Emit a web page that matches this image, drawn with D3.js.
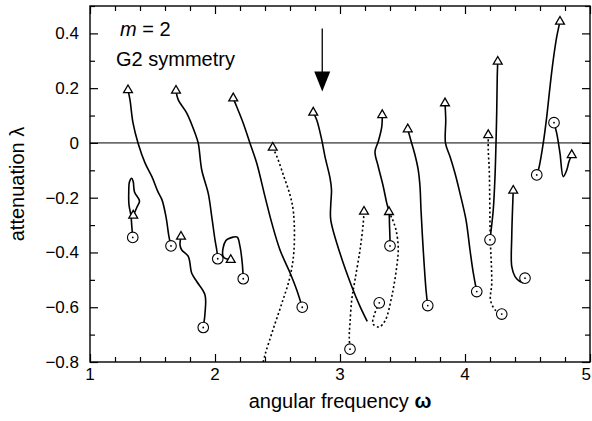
<!DOCTYPE html>
<html>
<head>
<meta charset="utf-8">
<script src="https://cdn.jsdelivr.net/npm/d3@7"></script>
<style>
  body { margin: 0; background: #fff; }
  svg { font-family: "Liberation Sans", Arial, sans-serif; }
</style>
</head>
<body>
<div id="chart"></div>
<script>
// branches (omega, lambda)
var branchA = [[1.304,0.193],[1.320,0.157],[1.344,0.073],[1.384,0],[1.440,-0.073],[1.496,-0.124],[1.544,-0.179],[1.576,-0.208],[1.608,-0.270],[1.632,-0.343],[1.648,-0.376]];
var branchB = [[1.342,-0.345],[1.334,-0.303],[1.328,-0.266],[1.312,-0.226],[1.310,-0.179],[1.316,-0.142],[1.334,-0.129],[1.346,-0.142],[1.356,-0.179],[1.396,-0.212],[1.376,-0.234],[1.346,-0.265]];
var branchC = [[1.688,0.191],[1.706,0.157],[1.774,0.109],[1.840,0.036],[1.866,-0.001],[1.894,-0.099],[1.946,-0.184],[1.974,-0.269],[2.000,-0.354],[2.014,-0.391],[2.022,-0.423]];
var branchD = [[1.728,-0.342],[1.720,-0.372],[1.734,-0.391],[1.786,-0.414],[1.814,-0.476],[1.854,-0.506],[1.920,-0.555],[1.920,-0.622],[1.906,-0.674]];
var branchE = [[2.126,-0.427],[2.066,-0.415],[2.086,-0.357],[2.146,-0.344],[2.178,-0.344],[2.200,-0.378],[2.218,-0.439],[2.226,-0.496]];
var branchF = [[2.146,0.163],[2.174,0.132],[2.226,0.072],[2.280,-0.001],[2.334,-0.074],[2.400,-0.196],[2.454,-0.292],[2.520,-0.391],[2.600,-0.474],[2.654,-0.537],[2.698,-0.600]];
var branchG = [[2.462,-0.017],[2.496,-0.051],[2.552,-0.124],[2.600,-0.190],[2.628,-0.255],[2.632,-0.391],[2.600,-0.489],[2.536,-0.584],[2.464,-0.682],[2.400,-0.774],[2.370,-0.83]];
var branchH = [[2.786,0.111],[2.814,0.084],[2.854,0.011],[2.880,-0.050],[2.920,-0.128],[2.932,-0.172],[2.926,-0.226],[2.926,-0.281],[3.000,-0.403],[3.094,-0.524],[3.160,-0.597],[3.218,-0.652]];
var branchI = [[3.314,-0.584],[3.272,-0.631],[3.264,-0.661],[3.312,-0.672],[3.360,-0.650],[3.414,-0.561],[3.454,-0.451],[3.466,-0.384],[3.448,-0.318],[3.416,-0.275],[3.386,-0.251]];
var branchK = [[3.338,0.102],[3.334,0.059],[3.306,0.005],[3.280,-0.032],[3.306,-0.086],[3.346,-0.159],[3.374,-0.220],[3.392,-0.252],[3.396,-0.299],[3.400,-0.354],[3.400,-0.376]];
var branchL = [[3.192,-0.251],[3.186,-0.293],[3.160,-0.391],[3.120,-0.500],[3.094,-0.573],[3.080,-0.658],[3.074,-0.707],[3.080,-0.753]];
var branchN = [[3.542,0.050],[3.566,0.011],[3.600,-0.044],[3.626,-0.099],[3.640,-0.159],[3.648,-0.245],[3.666,-0.391],[3.688,-0.536],[3.702,-0.594]];
var branchO = [[3.840,0.145],[3.846,0.084],[3.844,-0.001],[3.880,-0.050],[3.920,-0.111],[3.960,-0.184],[4.008,-0.281],[4.040,-0.391],[4.066,-0.474],[4.094,-0.543]];
var branchP = [[4.186,0.029],[4.186,-0.026],[4.194,-0.099],[4.202,-0.342],[4.214,-0.512],[4.204,-0.573],[4.240,-0.609],[4.294,-0.625]];
var branchQ = [[4.262,0.297],[4.258,0.242],[4.254,0.120],[4.248,-0.001],[4.240,-0.123],[4.226,-0.245],[4.206,-0.330],[4.200,-0.354]];
var branchR = [[4.386,-0.174],[4.382,-0.220],[4.374,-0.342],[4.374,-0.451],[4.400,-0.488],[4.440,-0.506],[4.462,-0.510],[4.480,-0.494]];
var branchS = [[4.574,-0.117],[4.594,-0.086],[4.626,-0.001],[4.654,0.096],[4.680,0.205],[4.706,0.303],[4.734,0.388],[4.760,0.443]];
var branchT = [[4.712,0.074],[4.734,0.035],[4.760,-0.038],[4.786,-0.123],[4.814,-0.099],[4.832,-0.068],[4.854,-0.044]];

var solidBranches = [branchA, branchB, branchC, branchD, branchE, branchF, branchH, branchK, branchN, branchO, branchQ, branchR, branchS, branchT];
var dottedBranches = [branchG, branchI, branchL, branchP];

// open triangles and dotted circles
var trianglePoints = [[1.304,0.193],[1.346,-0.265],[1.688,0.191],[1.728,-0.342],[2.126,-0.427],[2.146,0.163],[2.462,-0.017],[2.786,0.111],[3.338,0.102],[3.392,-0.252],[3.192,-0.251],[3.542,0.050],[3.840,0.145],[4.186,0.029],[4.262,0.297],[4.386,-0.174],[4.760,0.443],[4.854,-0.044]];
var circlePoints = [[1.648,-0.376],[1.342,-0.345],[2.022,-0.423],[1.906,-0.674],[2.226,-0.496],[2.698,-0.600],[3.314,-0.584],[3.400,-0.376],[3.080,-0.753],[3.702,-0.594],[4.094,-0.543],[4.294,-0.625],[4.200,-0.354],[4.480,-0.494],[4.574,-0.117],[4.712,0.074]];

var xMajor = [1, 2, 3, 4, 5];
var xMinor = [1.2,1.4,1.6,1.8,2.2,2.4,2.6,2.8,3.2,3.4,3.6,3.8,4.2,4.4,4.6,4.8];
var yMajor = [0.4, 0.2, 0, -0.2, -0.4, -0.6, -0.8];
var yMinor = [0.5, 0.3, 0.1, -0.1, -0.3, -0.5, -0.7];

// arrow: omega, from lambda, to lambda
var arrowMark = [2.858, 0.418, 0.188];

var width = 592,
    height = 421;
var margin = {top: 6, right: 2, bottom: 59, left: 90};

var svg = d3.select("#chart")
    .append("svg")
    .attr("width", width)
    .attr("height", height)

var x = d3.scaleLinear().domain([1, 5]).range([margin.left, width - margin.right])
var y = d3.scaleLinear().domain([-0.8, 0.5]).range([height - margin.bottom, margin.top])

svg.append("clipPath")
    .attr("id", "plotclip")
    .append("rect")
    .attr("x", x(1))
    .attr("y", y(0.5))
    .attr("width", x(5) - x(1))
    .attr("height", y(-0.8) - y(0.5))

// ticks, inward on all four sides
function tickAxis(axis, vals, size, pos) {
    var g = svg.append("g")
        .attr("transform", pos)
        .call(axis.tickValues(vals).tickSize(size).tickFormat(""))
    g.select(".domain").remove()
    g.selectAll("line").attr("stroke", "#000").attr("stroke-width", 1.2)
    return g
}
tickAxis(d3.axisBottom(x), xMajor, -8, "translate(0," + y(-0.8) + ")")
tickAxis(d3.axisBottom(x), xMinor, -5, "translate(0," + y(-0.8) + ")")
tickAxis(d3.axisTop(x), xMajor, -8, "translate(0," + y(0.5) + ")")
tickAxis(d3.axisTop(x), xMinor, -5, "translate(0," + y(0.5) + ")")
tickAxis(d3.axisLeft(y), yMajor, -8, "translate(" + x(1) + ",0)")
tickAxis(d3.axisLeft(y), yMinor, -5, "translate(" + x(1) + ",0)")
tickAxis(d3.axisRight(y), yMajor, -8, "translate(" + x(5) + ",0)")
tickAxis(d3.axisRight(y), yMinor, -5, "translate(" + x(5) + ",0)")

// tick labels (last one pulled in so it stays on the page)
svg.append("g").selectAll("text")
    .data(xMajor)
    .enter().append("text")
    .attr("x", function(d) { return d == 5 ? width - 1 : x(d) })
    .attr("y", y(-0.8) + 18)
    .attr("text-anchor", function(d) { return d == 5 ? "end" : "middle" })
    .attr("font-size", 17)
    .text(function(d) { return d })

svg.append("g").selectAll("text")
    .data(yMajor)
    .enter().append("text")
    .attr("x", x(1) - 11)
    .attr("y", function(d) { return y(d) + 6 })
    .attr("text-anchor", "end")
    .attr("font-size", 17)
    .text(function(d) { return d == 0 ? "0" : d3.format(".1f")(d) })

// frame
svg.append("rect")
    .attr("x", x(1))
    .attr("y", y(0.5))
    .attr("width", x(5) - x(1))
    .attr("height", y(-0.8) - y(0.5))
    .attr("fill", "none")
    .attr("stroke", "#000")
    .attr("stroke-width", 1.4)

// zero line
svg.append("line")
    .attr("x1", x(1)).attr("x2", x(5))
    .attr("y1", y(0)).attr("y2", y(0))
    .attr("stroke", "#000")
    .attr("stroke-width", 1)

var line = d3.line()
    .x(function(d) { return x(d[0]) })
    .y(function(d) { return y(d[1]) })
    .curve(d3.curveCatmullRom)

var curves = svg.append("g").attr("clip-path", "url(#plotclip)")

curves.selectAll(".solid")
    .data(solidBranches)
    .enter().append("path")
    .attr("class", "solid")
    .attr("d", line)
    .attr("fill", "none")
    .attr("stroke", "#000")
    .attr("stroke-width", 1.6)

curves.selectAll(".dotted")
    .data(dottedBranches)
    .enter().append("path")
    .attr("class", "dotted")
    .attr("d", line)
    .attr("fill", "none")
    .attr("stroke", "#000")
    .attr("stroke-width", 1.6)
    .attr("stroke-dasharray", "2,2.5")

// markers
svg.selectAll(".tri")
    .data(trianglePoints)
    .enter().append("path")
    .attr("class", "tri")
    .attr("d", d3.symbol(d3.symbolTriangle, 34))
    .attr("transform", function(d) { return "translate(" + x(d[0]) + "," + y(d[1]) + ")" })
    .attr("fill", "#fff")
    .attr("stroke", "#000")
    .attr("stroke-width", 1.3)

var rings = svg.selectAll(".ring")
    .data(circlePoints)
    .enter().append("g")
    .attr("class", "ring")
    .attr("transform", function(d) { return "translate(" + x(d[0]) + "," + y(d[1]) + ")" })
rings.append("circle")
    .attr("r", 5.3)
    .attr("fill", "#fff")
    .attr("stroke", "#000")
    .attr("stroke-width", 1.1)
rings.append("circle")
    .attr("r", 0.9)
    .attr("fill", "#000")

// arrow
svg.append("line")
    .attr("x1", x(arrowMark[0])).attr("x2", x(arrowMark[0]))
    .attr("y1", y(arrowMark[1])).attr("y2", y(arrowMark[2]) - 18)
    .attr("stroke", "#000")
    .attr("stroke-width", 1.3)
svg.append("path")
    .attr("d", "M" + (x(arrowMark[0]) - 8) + "," + (y(arrowMark[2]) - 20) +
               "L" + (x(arrowMark[0]) + 8) + "," + (y(arrowMark[2]) - 20) +
               "L" + x(arrowMark[0]) + "," + y(arrowMark[2]) + "Z")
    .attr("fill", "#000")

// labels inside the plot
var note = svg.append("text")
    .attr("x", x(1.24))
    .attr("y", y(0.392))
    .attr("font-size", 20)
note.append("tspan").attr("font-style", "italic").text("m")
note.append("tspan").text(" = 2")

svg.append("text")
    .attr("x", x(1.208))
    .attr("y", y(0.282))
    .attr("font-size", 20)
    .text("G2 symmetry")

// axis titles
var xt = svg.append("text")
    .attr("x", (x(1) + x(5)) / 2)
    .attr("y", 408)
    .attr("text-anchor", "middle")
    .attr("font-size", 20)
xt.append("tspan").text("angular frequency ")
xt.append("tspan").attr("font-weight", "bold").text("ω")

svg.append("text")
    .attr("transform", "translate(24," + ((y(0.5) + y(-0.8)) / 2) + ") rotate(-90)")
    .attr("text-anchor", "middle")
    .attr("font-size", 20)
    .text("attenuation λ")
</script>
</body>
</html>
